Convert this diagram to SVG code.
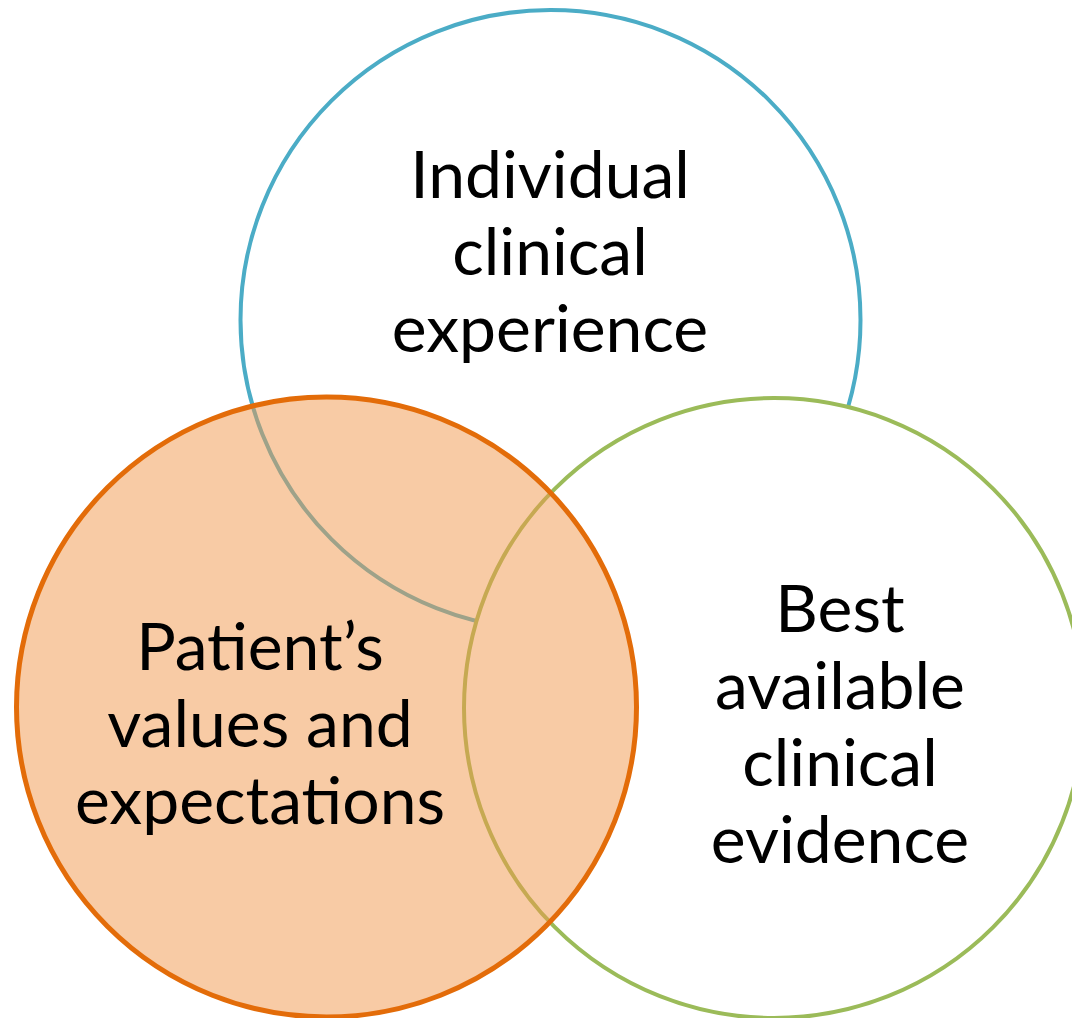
<svg xmlns="http://www.w3.org/2000/svg" width="1072" height="1018" viewBox="0 0 1072 1018">
<style>
.lbl{font-family:Lato,"Open Sans","Liberation Sans",sans-serif;font-size:66px;fill:#000;text-anchor:middle}
</style>
<rect x="0" y="0" width="1072" height="1018" fill="#fff"/>
<g id="experience">
<circle cx="550.5" cy="320" r="310" fill="#fff" stroke="#4BACC6" stroke-width="4"/>
<text class="lbl"><tspan x="550" y="198">Individual</tspan><tspan x="550" y="275">clinical</tspan><tspan x="550" y="352">experience</tspan></text>
</g>
<g id="evidence">
<circle cx="774" cy="708" r="310" fill="#fff" stroke="#9BBB59" stroke-width="4"/>
<text class="lbl"><tspan x="840" y="632">Best</tspan><tspan x="840" y="709">available</tspan><tspan x="840" y="786">clinical</tspan><tspan x="840" y="863">evidence</tspan></text>
</g>
<g id="patient">
<circle cx="326.5" cy="707" r="310" fill="#F1974B" fill-opacity="0.5" stroke="#E36C09" stroke-width="5"/>
<text class="lbl"><tspan x="260" y="670">Patient’s</tspan><tspan x="260" y="747">values and</tspan><tspan x="260" y="824">expectations</tspan></text>
</g>
<g id="connectors"/>
</svg>
